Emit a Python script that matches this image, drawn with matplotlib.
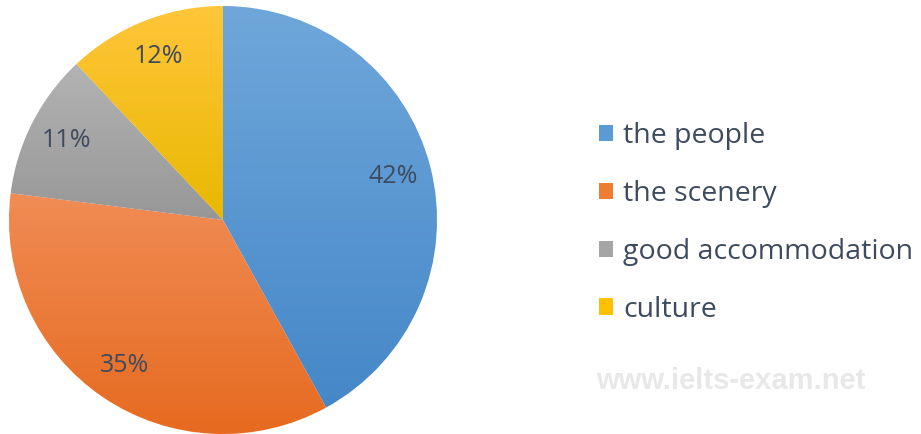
import matplotlib
matplotlib.use("Agg")
import matplotlib.pyplot as plt
import numpy as np
from matplotlib.colors import LinearSegmentedColormap
from matplotlib.patches import Patch

categories = ["the people", "the scenery", "good accommodation", "culture"]
values = [42, 35, 11, 12]
colors = ["#5B9BD5", "#ED7D31", "#A5A5A5", "#FFC000"]
top_colors = ["#6FA7DA", "#F08C55", "#B3B3B3", "#FFC63A"]
bottom_colors = ["#4587C8", "#E66A1F", "#979797", "#E8B800"]

W, H = 921, 434
fig = plt.figure(figsize=(W / 100, H / 100), dpi=100)
cx, cy, r = 223, 220, 214
ax = fig.add_axes([(cx - r) / W, (H - cy - r) / H, 2 * r / W, 2 * r / H])
ax.set_aspect("equal")
ax.axis("off")

wedges, texts, autotexts = ax.pie(
    values, colors=colors, startangle=90, counterclock=False, radius=1,
    autopct="%d%%", pctdistance=0.82,
    wedgeprops=dict(edgecolor="white", linewidth=0.8),
    textprops=dict(color="#3E4B5E", fontsize=18, family="Open Sans"),
)

for w, tc, bc in zip(wedges, top_colors, bottom_colors):
    verts = w.get_patch_transform().transform(w.get_path().vertices)
    x0, y0 = verts.min(axis=0)
    x1, y1 = verts.max(axis=0)
    cmap = LinearSegmentedColormap.from_list("g", [bc, tc])
    grad = np.linspace(0, 1, 256).reshape(-1, 1)
    im = ax.imshow(grad, extent=[x0, x1, y0, y1], origin="lower", cmap=cmap,
                   aspect="auto", zorder=w.get_zorder() + 0.1, interpolation="bilinear")
    im.set_clip_path(w)
for t in autotexts:
    t.set_zorder(5)
ax.set_xlim(-1, 1)
ax.set_ylim(-1, 1)

handles = [Patch(facecolor=c, edgecolor="none") for c in colors]
fig.legend(handles, categories, loc="upper left", bbox_to_anchor=(599 / W, 1 - 122 / H),
           frameon=False, prop=dict(family="Open Sans", size=20.5),
           labelcolor="#3E4B5E", handlelength=0.5, handleheight=0.5,
           handletextpad=0.35, labelspacing=1.05, borderpad=0, borderaxespad=0)

fig.text(596 / W, 1 - 381 / H, "www.ielts-exam.net", fontsize=21, fontweight="bold",
         family="Liberation Sans", color="#E8E8E8", va="center", ha="left")

fig.savefig("out.png", dpi=100)
